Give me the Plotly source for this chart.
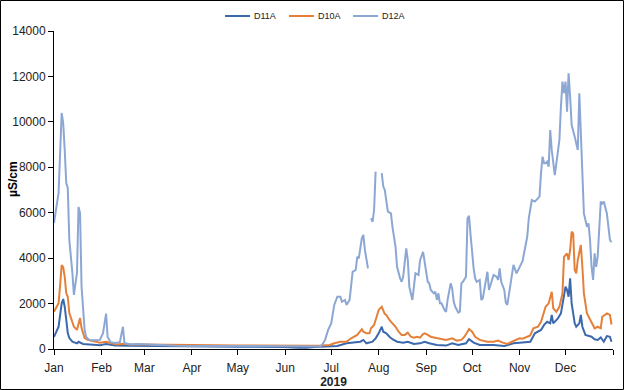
import pandas as pd
import plotly.graph_objects as go

START = "2019-01-01"

# ---- data (day offset from 1 Jan 2019, conductivity in µS/cm) ----
d11a_days = [0, 2, 3, 5, 6, 7, 8, 9, 10, 12, 15, 16, 19, 26, 30, 34, 40, 50, 60, 70, 80, 90, 100, 110,
             120, 130, 140, 150, 160, 165, 170, 180, 185, 191, 196, 200, 202, 204, 208, 210, 212, 213,
             214, 215, 217, 219, 221, 224, 228, 231, 235, 239, 242, 245, 250, 256, 260, 264, 269, 271,
             274, 278, 287, 294, 300, 304, 311, 314, 318, 320, 322, 324, 325, 326, 329, 331, 333, 334,
             335, 336, 337, 338, 340, 341, 343, 344, 345, 347, 351, 353, 355, 357, 359, 361, 363, 364]
d11a_vals = [530, 840, 980, 2000, 2200, 1860, 1200, 700, 480, 320, 250, 320, 220, 175, 170, 220, 150, 140,
             130, 120, 110, 110, 110, 110, 100, 100, 100, 90, 60, 50, 90, 100, 130, 250, 280, 320, 400,
             250, 320, 470, 690, 810, 980, 760, 690, 540, 430, 320, 280, 320, 220, 250, 320, 250, 175,
             150, 250, 175, 250, 430, 280, 175, 175, 130, 250, 280, 320, 690, 840, 1060, 1200, 1130, 1500,
             1130, 1350, 1570, 2380, 2740, 2600, 2300, 3110, 2010, 1130, 980, 1130, 1500, 980, 620, 540,
             430, 400, 510, 320, 570, 540, 320]

d10a_days = [0, 2, 3, 4, 5, 6, 7, 8, 9, 10, 12, 13, 15, 16, 17, 18, 20, 22, 24, 27, 30, 34, 38, 41, 45,
             50, 60, 70, 75, 80, 90, 100, 110, 120, 130, 140, 150, 160, 170, 174, 180, 183, 187, 191, 194,
             198, 200, 201, 202, 204, 206, 207, 209, 211, 212, 214, 215, 216, 217, 219, 221, 223, 225, 227,
             229, 231, 233, 235, 237, 239, 241, 242, 244, 246, 248, 252, 256, 260, 263, 266, 268, 270, 271,
             273, 275, 278, 283, 287, 290, 293, 296, 299, 302, 304, 306, 309, 311, 313, 316, 318, 321, 323,
             325, 326, 328, 330, 332, 333, 335, 336, 337, 338, 339, 340, 341, 342, 344, 345, 346, 348, 351,
             353, 355, 357, 358, 361, 363, 364]
d10a_vals = [1640, 1900, 2020, 2800, 3700, 3600, 3180, 2460, 2300, 1580, 1100, 980, 840, 1140, 1360, 920,
             480, 400, 370, 330, 280, 320, 250, 200, 230, 200, 200, 190, 170, 160, 160, 170, 150, 150, 150,
             140, 160, 140, 140, 150, 175, 250, 320, 320, 470, 620, 760, 870, 760, 690, 690, 910, 1060,
             1570, 1720, 1860, 1720, 1540, 1500, 1280, 1130, 980, 760, 620, 620, 720, 540, 500, 540, 500,
             660, 690, 620, 540, 510, 470, 400, 470, 370, 400, 540, 760, 880, 760, 540, 400, 320, 320, 370,
             280, 220, 320, 400, 470, 450, 540, 600, 910, 980, 1200, 1860, 2010, 2520, 1790, 1640, 1860,
             2450, 4060, 4210, 3920, 4360, 5160, 5090, 3480, 3330, 3920, 4580, 3620, 2450, 1570, 1130, 910,
             980, 910, 1420, 1570, 1500, 1080]

d12a_days = [0, 2, 3, 5, 6, 7, 8, 9, 10, 12, 13, 15, 16, 17, 18, 20, 21, 23, 27, 30, 32, 34, 35, 37, 40,
             43, 45, 46, 50, 55, 60, 65, 70, 75, 80, 90, 100, 110, 120, 130, 140, 150, 160, 165, 170, 174,
             175, 177, 179, 181, 183, 185, 187, 188, 190, 191, 193, 195, 197, 198, 199, 201, 202, 203, 205,
             206, 207, 208, 209, 210, 212, 214, 215, 216, 217, 218, 220, 221, 223, 224, 226, 227, 228, 229,
             230, 231, 232, 234, 235, 236, 238, 239, 241, 242, 244, 245, 246, 248, 249, 250, 251, 252, 253,
             255, 256, 257, 259, 260, 261, 262, 264, 265, 266, 267, 269, 270, 271, 272, 273, 274, 275, 276,
             278, 279, 280, 282, 283, 284, 285, 286, 287, 289, 290, 291, 292, 294, 295, 296, 297, 298, 299,
             300, 302, 303, 305, 306, 307, 309, 310, 312, 314, 315, 317, 318, 319, 320, 321, 322, 323, 324,
             325, 327, 328, 329, 330, 331, 332, 333, 334, 335, 336, 337, 338, 340, 341, 342, 343, 344, 345,
             346, 347, 348, 349, 350, 351, 352, 353, 354, 355, 356, 357, 358, 359, 361, 362, 363, 364]
d12a_vals = [5550, 6430, 6870, 10390, 9950, 8760, 7310, 7090, 4800, 3350, 2380, 3350, 6250, 5990, 2730,
             840, 530, 400, 380, 400, 700, 1560, 530, 300, 260, 300, 980, 260, 200, 220, 200, 200, 190,
             170, 140, 130, 140, 130, 130, 130, 120, 110, 100, 100, 110, 110, 175, 400, 840, 1130, 1940,
             2300, 2300, 2080, 2160, 1940, 2160, 3400, 3480, 4060, 3990, 4870, 5020, 4360, 3550, None,
             5750, 5600, 6120, 7810, None, 7740, 7150, 7000, 6560, 6050, 5970, 5380, 4500, 3620, 3110,
             2960, 3180, 3920, 4430, 3920, 2740, 2160, 2740, 3330, 3260, 3900, 4280, 3770, 2960, 2890,
             2600, 2450, 2520, 2160, 2450, 2010, 2010, 1720, 1640, 2160, 2890, 2670, 2080, 1860, 1600,
             1640, 2890, 2960, 3180, 5750, 5860, 5020, 4210, 3550, 3110, 2960, 3040, 2160, 2230, 3110,
             3400, 2600, 2820, 2960, 3260, 3180, 3040, 3550, 2960, 2600, 2040, 1940, 2300, 2820, 3260,
             3700, 3330, 3480, 3700, 3880, 4250, 4940, 5750, 6560, 6490, 6560, 6710, 7740, 8470, 8180,
             8180, 8250, 8030, 9640, 8760, 7660, 8180, 8470, 9200, 10670, 11770, 11260, 11770, 10450,
             12140, 11110, 9860, 9350, 8980, 8760, 11260, 9350, 7440, 5970, 5680, 5380, 5530, 4800, 3620,
             3040, 4210, 3620, 4060, 5090, 6490, 6410, 6490, 5970, 5380, 4800, 4700]

series_names = ["D11A", "D10A", "D12A"]
series_colors = ["#3C69AC", "#E5803A", "#8CA7D4"]

month_ticks = ["2019-01-01", "2019-02-01", "2019-03-01", "2019-04-01", "2019-05-01", "2019-06-01",
               "2019-07-01", "2019-08-01", "2019-09-01", "2019-10-01", "2019-11-01", "2019-12-01",
               "2020-01-01"]
month_labels = ["Jan", "Feb", "Mar", "Apr", "May", "Jun", "Jul", "Aug", "Sep", "Oct", "Nov", "Dec", ""]

y_ticks = [0, 2000, 4000, 6000, 8000, 10000, 12000, 14000]


def to_dates(days):
    return pd.Timestamp(START) + pd.to_timedelta(days, unit="D")


FONT = "Liberation Sans, Arial, sans-serif"

L, R, T, B = 54, 11, 31, 41
W, H = 624, 390
pw, ph = W - L - R, H - T - B


def px_x(p):
    return (p - L) / pw


def px_y(p):
    return (H - B - p) / ph


fig = go.Figure()
for name, days, vals, col in zip(series_names,
                                 [d11a_days, d10a_days, d12a_days],
                                 [d11a_vals, d10a_vals, d12a_vals],
                                 series_colors):
    fig.add_trace(go.Scatter(x=to_dates(days), y=vals, mode="lines", name=name,
                             line=dict(color=col, width=2), connectgaps=False,
                             showlegend=False))

# legend drawn manually (compact, like the original)
shapes = [dict(type="rect", xref="paper", yref="paper",
               x0=px_x(0.5), x1=px_x(W - 0.5), y0=px_y(H - 0.5), y1=px_y(0.5),
               line=dict(color="black", width=1), fillcolor="rgba(0,0,0,0)")]
annotations = [dict(text="<b>µS/cm</b>", textangle=-90, xref="paper", yref="paper",
                    x=px_x(13), xanchor="center", y=px_y(179), yanchor="middle",
                    showarrow=False, font=dict(size=12, color="black"))]
leg_y = 16
for i, (name, col) in enumerate(zip(series_names, series_colors)):
    x0 = 225 + 64 * i
    shapes.append(dict(type="line", xref="paper", yref="paper",
                       x0=px_x(x0), x1=px_x(x0 + 25), y0=px_y(leg_y), y1=px_y(leg_y),
                       line=dict(color=col, width=2)))
    annotations.append(dict(text=name, xref="paper", yref="paper", x=px_x(x0 + 28), xanchor="left",
                            y=px_y(leg_y), yanchor="middle", showarrow=False,
                            font=dict(size=9, color="#222222"), xshift=-1))

fig.update_layout(
    width=W, height=H,
    margin=dict(l=L, r=R, t=T, b=B, autoexpand=False),
    paper_bgcolor="white", plot_bgcolor="white",
    font=dict(family=FONT, size=12, color="#222222"),
    showlegend=False,
    xaxis=dict(type="date", range=["2019-01-01", "2020-01-01"], automargin=False,
               tickmode="array", tickvals=month_ticks, ticktext=month_labels,
               showline=True, linecolor="black", linewidth=1,
               ticks="outside", ticklen=5, tickcolor="black",
               showgrid=False, zeroline=False,
               tickfont=dict(size=12), ticklabelstandoff=3,
               title=dict(text="<b>2019</b>", font=dict(size=12), standoff=2)),
    yaxis=dict(range=[0, 14000], tickmode="array", tickvals=y_ticks, automargin=False,
               showline=True, linecolor="black", linewidth=1,
               ticks="outside", ticklen=5, tickcolor="black",
               showgrid=False, zeroline=False, tickfont=dict(size=12),
               tickformat="d"),
    annotations=annotations,
    shapes=shapes,
)

fig.write_html("out.html", config={"displayModeBar": False},
               post_script="document.body.style.margin='0px';")
